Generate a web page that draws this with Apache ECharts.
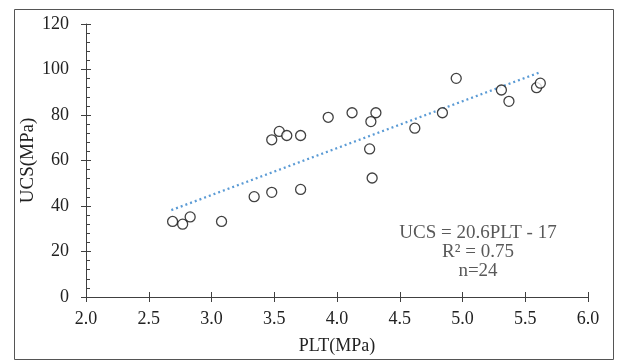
<!DOCTYPE html>
<html>
<head>
<meta charset="utf-8">
<script src="https://cdn.jsdelivr.net/npm/echarts@6/dist/echarts.min.js"></script>
<style>
    html, body { margin: 0; padding: 0; background: #fff; }
    #chart { width: 618px; height: 360px; }
</style>
</head>
<body>
<div id="chart"></div>
<script>
// 点荷载强度 PLT 与单轴抗压强度 UCS
var pltValues = [2.69, 2.77, 2.83, 3.08, 3.34, 3.48, 3.71, 3.48, 3.54, 3.60, 3.71, 3.93,
                 4.12, 4.31, 4.27, 4.26, 4.28, 4.62, 4.84, 4.95, 5.31, 5.37, 5.59, 5.62];
var ucsValues = [33.2, 32.0, 35.2, 33.2, 44.1, 46.0, 47.3, 69.1, 72.8, 71.0, 71.0, 79.0,
                 81.0, 81.0, 77.1, 65.1, 52.3, 74.2, 81.0, 96.1, 91.0, 86.0, 92.0, 94.0];
// 趋势线两端
var trendX = [2.68, 5.62];
var trendY = [38.2, 98.8];
var xTicks = ['2.0', '2.5', '3.0', '3.5', '4.0', '4.5', '5.0', '5.5', '6.0'];
var noteLines = ['UCS = 20.6PLT - 17', 'R² = 0.75', 'n=24'];

var serif = '"Liberation Serif", "DejaVu Serif", serif';

var myChart = echarts.init(document.getElementById('chart'));

var points = pltValues.map(function (x, i) { return [x, ucsValues[i]]; });
var trend = trendX.map(function (x, i) { return [x, trendY[i]]; });

var axisLineStyle = { color: '#404040', width: 1 };

var option = {
    animation: false,
    grid: { left: 86, right: 30, top: 24, bottom: 62 },
    xAxis: [
        {
            type: 'value', min: 2, max: 6, interval: 0.5,
            name: 'PLT(MPa)', nameLocation: 'middle', nameGap: 40,
            nameTextStyle: { fontFamily: serif, fontSize: 18, color: '#222' },
            axisLine: { onZero: false, lineStyle: axisLineStyle },
            axisTick: { show: true, length: 5, lineStyle: axisLineStyle },
            axisLabel: {
                margin: 13, fontFamily: serif, fontSize: 18, color: '#222',
                formatter: function (v) { return xTicks[Math.round((v - 2) / 0.5)]; }
            },
            splitLine: { show: false }
        },
        {
            type: 'value', min: 2, max: 6, interval: 0.5, position: 'bottom',
            axisLine: { show: false },
            axisTick: { show: true, inside: true, length: 5, lineStyle: axisLineStyle },
            axisLabel: { show: false },
            splitLine: { show: false }
        }
    ],
    yAxis: [
        {
            type: 'value', min: 0, max: 120, interval: 20,
            name: 'UCS(MPa)', nameLocation: 'middle', nameGap: 48, nameRotate: 90,
            nameMoveOverlap: false,
            nameTextStyle: { fontFamily: serif, fontSize: 19, color: '#222' },
            axisLine: { show: true, lineStyle: axisLineStyle },
            axisTick: { show: true, length: 5, lineStyle: axisLineStyle },
            axisLabel: { margin: 17, fontFamily: serif, fontSize: 18, color: '#222' },
            splitLine: { show: false }
        },
        {
            type: 'value', min: 0, max: 120, interval: 20, position: 'left',
            axisLine: { show: false },
            axisTick: { show: true, inside: true, length: 5, lineStyle: axisLineStyle },
            minorTick: { show: true, splitNumber: 5, length: 4, lineStyle: axisLineStyle },
            axisLabel: { show: false },
            splitLine: { show: false }
        }
    ],
    series: [
        {
            name: 'trend',
            type: 'line',
            data: trend,
            symbol: 'none',
            lineStyle: { color: '#5b9bd5', width: 2.2, type: [2, 3] },
            z: 1
        },
        {
            name: 'UCS',
            type: 'scatter',
            data: points,
            symbol: 'circle',
            symbolSize: 10,
            itemStyle: { color: '#fff', borderColor: '#111', borderWidth: 1.3 },
            z: 2
        }
    ],
    graphic: [
        {
            type: 'rect', left: 12, top: 7, silent: true,
            shape: { width: 599, height: 350 },
            style: { fill: 'none', stroke: '#555', lineWidth: 1 }
        },
        {
            type: 'text', x: 478, y: 233, silent: true,
            style: { text: noteLines[0], fontFamily: serif, fontSize: 19, fill: '#595959', align: 'center', verticalAlign: 'middle' }
        },
        {
            type: 'text', x: 478, y: 252, silent: true,
            style: { text: noteLines[1], fontFamily: serif, fontSize: 19, fill: '#595959', align: 'center', verticalAlign: 'middle' }
        },
        {
            type: 'text', x: 478, y: 271, silent: true,
            style: { text: noteLines[2], fontFamily: serif, fontSize: 19, fill: '#595959', align: 'center', verticalAlign: 'middle' }
        }
    ]
};

myChart.setOption(option);
window.addEventListener('resize', function () { myChart.resize(); });
</script>
</body>
</html>
